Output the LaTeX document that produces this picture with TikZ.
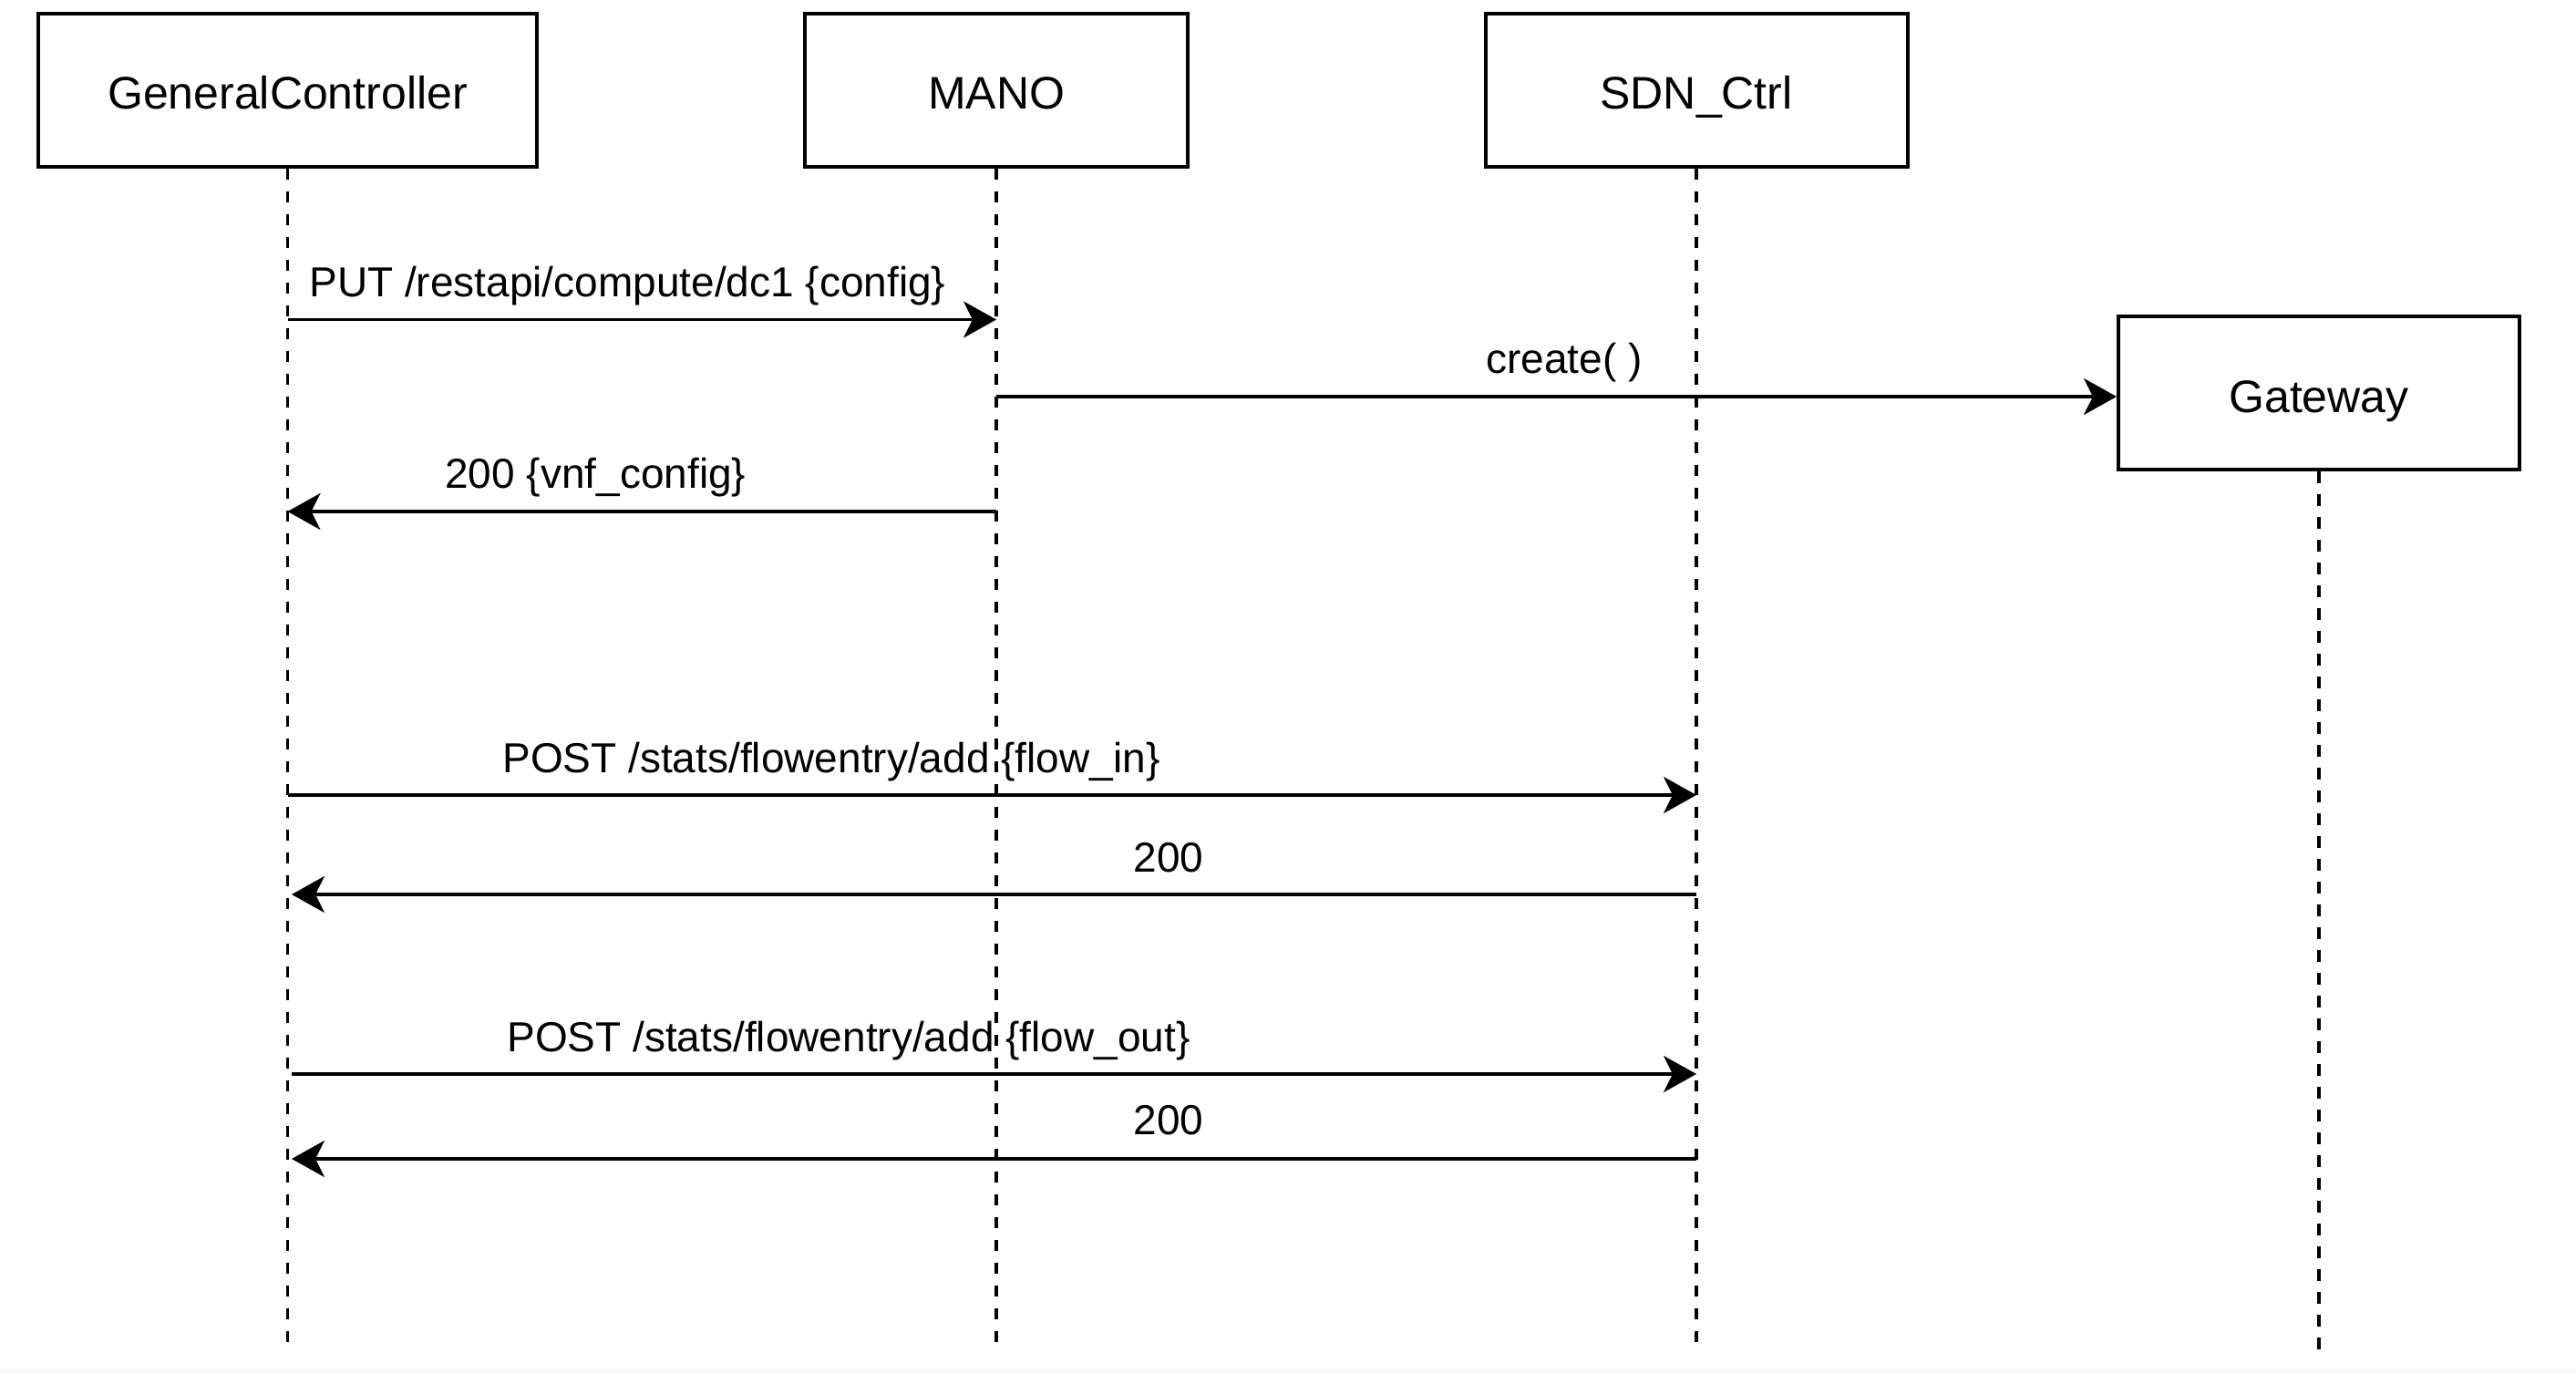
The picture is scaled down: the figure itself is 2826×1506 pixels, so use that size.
\documentclass[tikz,border=0pt]{standalone}
\usepackage{fontspec}
\setmainfont{Liberation Sans}
\usetikzlibrary{arrows.meta}
\begin{document}
\begin{tikzpicture}[x=0.5pt,y=-0.5pt,
  actor/.style={draw=black,line width=2pt,fill=white,inner sep=0pt,minimum height=84pt,text height=21pt,text depth=0pt,font=\fontsize{25pt}{30pt}\selectfont},
  lifeline/.style={line width=1.7pt,dash pattern=on 6.3pt off 6.2pt},
  msg/.style={line width=1.8pt,-{Stealth[length=18pt,width=20pt,inset=5pt]}},
  lbl/.style={anchor=base west,inner sep=0pt,font=\fontsize{23pt}{27pt}\selectfont}]
\useasboundingbox (0,0) rectangle (2826,1506);
\fill[fill={rgb,255:red,250;green,250;blue,250}] (0,1500) rectangle (2826,1506);
% actors
\node[actor,minimum width=273.5pt] (gc) at (315.5,98.5) {GeneralController};
\node[actor,minimum width=210pt] (mano) at (1093,98.5) {MANO};
\node[actor,minimum width=231.5pt] (sdn) at (1861,98.5) {SDN\_Ctrl};
\node[actor,minimum width=220pt] (gw) at (2544,431) {Gateway};
% lifeline ends
\coordinate (gcE) at (315.5,1481);
\coordinate (manoE) at (1093,1481);
\coordinate (sdnE) at (1861,1481);
\coordinate (gwE) at (2544,1485);
\draw[lifeline] (gc.south) -- (gcE);
\draw[lifeline] (mano.south) -- (manoE);
\draw[lifeline] (sdn.south) -- (sdnE);
\draw[lifeline] (gw.south) -- (gwE);
% message points
\coordinate (gc1) at (315.5,350.5);   \coordinate (mano1) at (1093,350.5);
\coordinate (mano2) at (1093,435);
\coordinate (mano3) at (1093,561);    \coordinate (gc3) at (315.5,561);
\coordinate (gc4) at (315.5,872);     \coordinate (sdn4) at (1861,872);
\coordinate (sdn5) at (1861,981);     \coordinate (gc5) at (320,981);
\coordinate (gc6) at (320,1178);      \coordinate (sdn6) at (1861,1178);
\coordinate (sdn7) at (1861,1271);    \coordinate (gc7) at (320,1271);
% messages
\draw[msg] (gc1) -- (mano1);
\draw[msg] (mano2) -- (gw.west |- mano2);
\draw[msg] (mano3) -- (gc3);
\draw[msg] (gc4) -- (sdn4);
\draw[msg] (sdn5) -- (gc5);
\draw[msg] (gc6) -- (sdn6);
\draw[msg] (sdn7) -- (gc7);
% labels
\node[lbl] (l1) at (339,325) {PUT /restapi/compute/dc1 \{config\}};
\node[lbl] (l2) at (1630,409) {create( )};
\node[lbl] (l3) at (488,535) {200 \{vnf\_config\}};
\node[lbl] (l4) at (551,847) {POST /stats/flowentry/add \{flow\_in\}};
\node[lbl,anchor=base] (l5) at (1282,956) {200};
\node[lbl] (l6) at (556,1153) {POST /stats/flowentry/add \{flow\_out\}};
\node[lbl,anchor=base] (l7) at (1282,1244) {200};
\end{tikzpicture}
\end{document}
